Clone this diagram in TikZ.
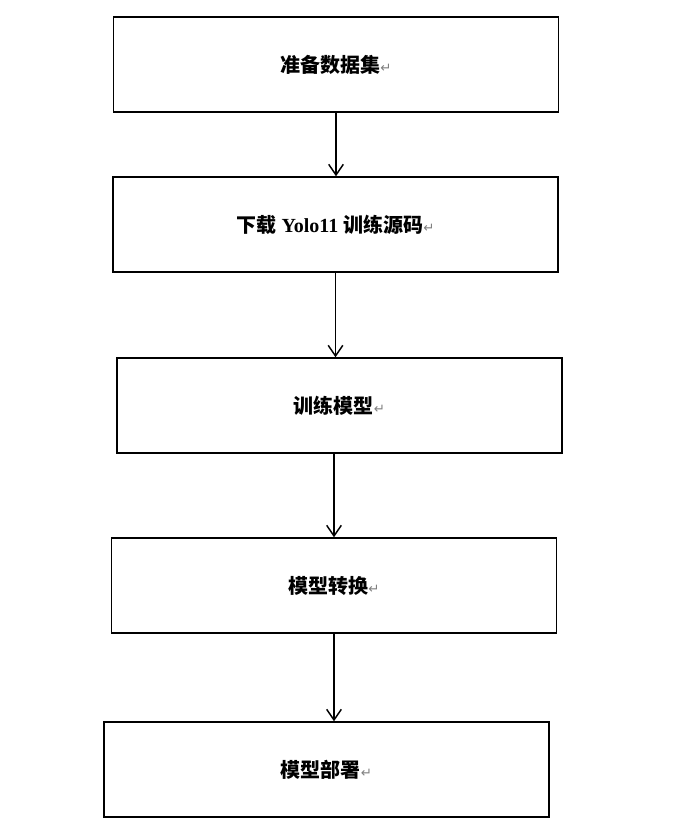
\documentclass[tikz,border=0pt]{standalone}
\usepackage{fontspec}
\setmainfont{Liberation Serif}
\newfontfamily\cjk{Noto Sans CJK SC}
\newfontfamily\sym{DejaVu Sans}
\usetikzlibrary{arrows.meta}
\tikzset{
  stage/.style={rectangle, draw, line width=1.1pt, minimum width=333.75pt, minimum height=71.25pt, inner sep=0pt, font=\bfseries\fontsize{15}{18}\selectfont},
  flow/.style={-{Straight Barb[length=8pt,width=11pt]}, line width=1.1pt}
}
\newcommand{\ret}{\textcolor{gray}{\normalfont\sym\fontsize{10}{12}\selectfont ↵}}
\begin{document}
\begin{tikzpicture}[x=0.75pt, y=-0.75pt]
\useasboundingbox (0,0) rectangle (676,840);
\node [stage] (s1) at (336,64.5) {\cjk 准备数据集\ret};
\node [stage] (s2) at (335.5,224.5) {{\cjk 下载} Yolo11 {\cjk 训练源码}\ret};
\node [stage] (s3) at (339.5,405.5) {\cjk 训练模型\ret};
\node [stage] (s4) at (334,585.5) {\cjk 模型转换\ret};
\node [stage] (s5) at (326.5,769.5) {\cjk 模型部署\ret};

\draw[flow] (s1.south) -- (s1.south |- s2.north);
\draw[flow] (s2.south) -- (s2.south |- s3.north);
\draw[flow] (s4.north |- s3.south) -- (s4.north);
\draw[flow] (s4.south) -- (s4.south |- s5.north);
\end{tikzpicture}
\end{document}
